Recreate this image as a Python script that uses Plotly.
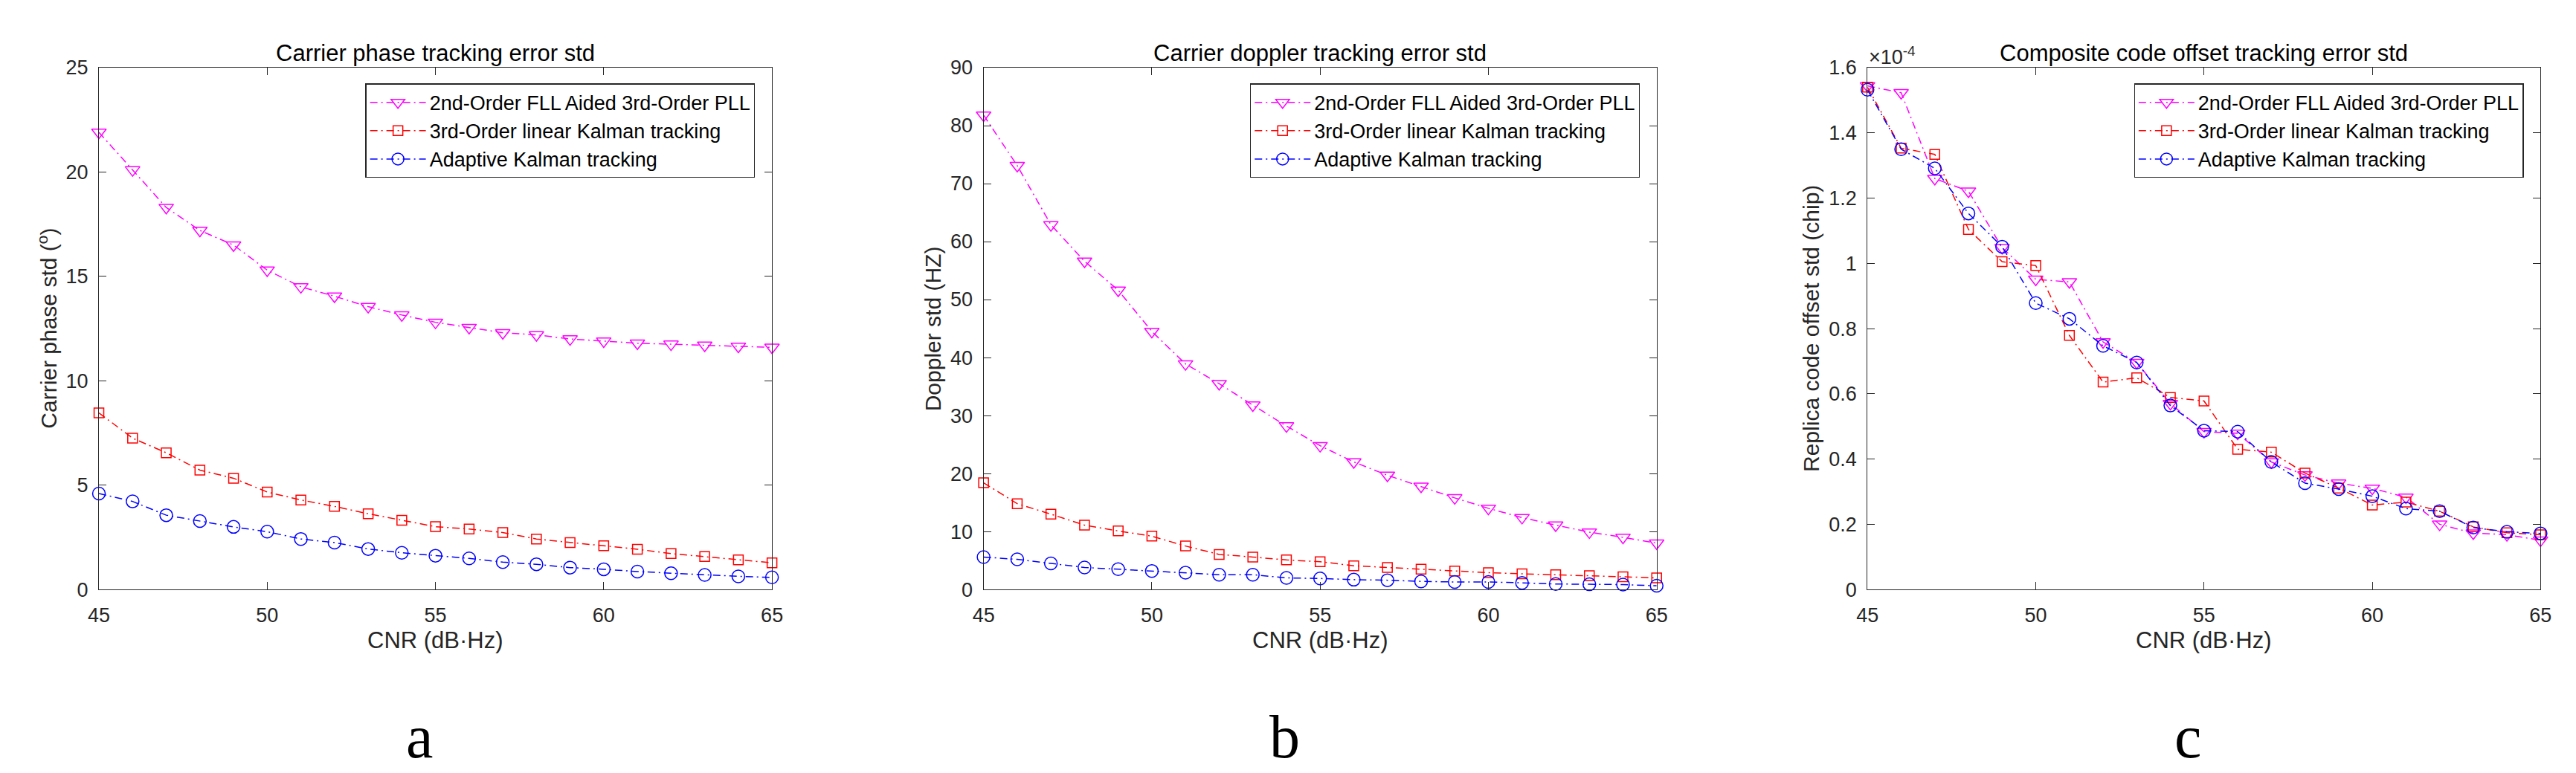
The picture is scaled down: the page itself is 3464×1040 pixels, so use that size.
import plotly.graph_objects as go

cnr = list(range(45, 66))

# Panel a: carrier phase std (deg)
phase_fll = [21.9, 20.1, 18.3, 17.2, 16.5, 15.3, 14.5, 14.05, 13.55, 13.15, 12.8, 12.55,
             12.3, 12.2, 12.0, 11.9, 11.8, 11.75, 11.7, 11.65, 11.6]
phase_lkf = [8.46, 7.25, 6.55, 5.72, 5.33, 4.67, 4.29, 3.98, 3.63, 3.32, 3.01, 2.9,
             2.73, 2.42, 2.25, 2.1, 1.93, 1.72, 1.58, 1.42, 1.28]
phase_akf = [4.6, 4.22, 3.56, 3.28, 3.0, 2.77, 2.42, 2.25, 1.94, 1.76, 1.62, 1.49,
             1.31, 1.21, 1.05, 0.97, 0.86, 0.78, 0.7, 0.63, 0.58]

# Panel b: doppler std (Hz)
dop_fll = [81.8, 73.1, 62.9, 56.6, 51.6, 44.5, 38.9, 35.5, 31.8, 28.2, 24.8, 22.0,
           19.7, 17.8, 15.8, 14.0, 12.4, 11.1, 9.9, 9.0, 8.0]
dop_lkf = [18.4, 14.8, 13.0, 11.1, 10.1, 9.2, 7.5, 6.05, 5.6, 5.1, 4.8, 4.1,
           3.8, 3.5, 3.2, 2.9, 2.7, 2.55, 2.4, 2.2, 2.0]
dop_akf = [5.6, 5.2, 4.5, 3.8, 3.5, 3.2, 2.9, 2.55, 2.55, 2.0, 1.9, 1.7,
           1.6, 1.4, 1.3, 1.3, 1.15, 0.95, 0.9, 0.85, 0.65]

# Panel c: replica code offset std (chip), in units of 1e-4
code_fll = [1.544, 1.523, 1.26, 1.221, 1.048, 0.951, 0.943, 0.759, 0.696, 0.57, 0.484, 0.479,
            0.391, 0.351, 0.326, 0.31, 0.283, 0.2, 0.173, 0.168, 0.151]
code_lkf = [1.54, 1.353, 1.334, 1.104, 1.005, 0.993, 0.779, 0.636, 0.649, 0.589, 0.578, 0.43,
            0.421, 0.357, 0.311, 0.259, 0.268, 0.24, 0.192, 0.174, 0.168]
code_akf = [1.532, 1.35, 1.291, 1.153, 1.051, 0.878, 0.83, 0.747, 0.696, 0.564, 0.487, 0.484,
            0.391, 0.326, 0.308, 0.286, 0.248, 0.24, 0.19, 0.177, 0.172]

names = ["2nd-Order FLL Aided 3rd-Order PLL", "3rd-Order linear Kalman tracking",
         "Adaptive Kalman tracking"]
colors = ["#FF00FF", "#FF0000", "#0000FF"]
symbols = ["triangle-down-open", "square-open", "circle-open"]
msizes = [17, 13, 17]

titles = ["Carrier phase tracking error std", "Carrier doppler tracking error std",
          "Composite code offset tracking error std"]
ylabels = ["Carrier phase std (<sup>o</sup>)", "Doppler std (HZ)", "Replica code offset std (chip)"]
panel_letters = ["a", "b", "c"]
yranges = [[0, 25], [0, 90], [0, 1.6]]
ydticks = [5, 10, 0.2]

W, H = 3464, 1040
left_px = [111, 1311, 2510]
plot_w = 913
top_px, bot_px = 70, 793
ylab_x = [41, 1242, 2433]
letter_x = [546, 1719, 2945]

data = [(phase_fll, phase_lkf, phase_akf), (dop_fll, dop_lkf, dop_akf), (code_fll, code_lkf, code_akf)]

fig = go.Figure()
FONT = "Liberation Sans, Arial, Helvetica, sans-serif"
AX = "#262626"

for p in range(3):
    sfx = "" if p == 0 else str(p + 1)
    for k in range(3):
        fig.add_trace(go.Scatter(
            x=cnr, y=data[p][k], name=names[k], mode="lines+markers",
            xaxis="x" + sfx, yaxis="y" + sfx, legend="legend" + sfx,
            line=dict(color=colors[k], width=1.5, dash="10px,5px,2px,5px"),
            marker=dict(symbol=symbols[k], size=msizes[k], color=colors[k],
                        line=dict(color=colors[k], width=1.5)),
            cliponaxis=False,
        ))
    x0 = left_px[p] / W
    x1 = (left_px[p] + plot_w) / W
    axcommon = dict(showgrid=False, zeroline=False, showline=True, linecolor=AX, linewidth=1.3,
                    mirror="ticks", ticks="inside", ticklen=10, tickcolor=AX, tickwidth=1.3,
                    tickfont=dict(family=FONT, size=27, color=AX))
    fig.update_layout(**{
        "xaxis" + sfx: dict(domain=[x0, x1], range=[45, 65], dtick=5, tick0=45,
                            anchor="y" + sfx, ticklabelstandoff=10, **axcommon),
        "yaxis" + sfx: dict(domain=[1 - bot_px / H, 1 - top_px / H], range=yranges[p],
                            dtick=ydticks[p], tick0=0, anchor="x" + sfx,
                            ticklabelstandoff=8, **axcommon),
        "legend" + sfx: dict(x=(left_px[p] + plot_w - 23) / W, y=1 - 92 / H,
                             xanchor="right", yanchor="top", bgcolor="white",
                             bordercolor=AX, borderwidth=1.3, itemwidth=75,
                             font=dict(family=FONT, size=27, color="black"),
                             tracegroupgap=0),
    })
    fig.add_annotation(x=(left_px[p] + plot_w / 2) / W, y=1 - 50 / H, xref="paper", yref="paper",
                       text=titles[p], showarrow=False, xanchor="center", yanchor="middle",
                       font=dict(family=FONT, size=31, color="black"))
    fig.add_annotation(x=(left_px[p] + plot_w / 2) / W, y=1 - 863 / H, xref="paper", yref="paper",
                       text="CNR (dB·Hz)", showarrow=False, xanchor="center", yanchor="middle",
                       font=dict(family=FONT, size=31, color=AX))
    fig.add_annotation(x=ylab_x[p] / W, y=1 - (top_px + bot_px) / 2 / H, xref="paper", yref="paper",
                       text=ylabels[p], showarrow=False, textangle=-90,
                       xanchor="center", yanchor="middle",
                       font=dict(family=FONT, size=30, color=AX))
    fig.add_annotation(x=letter_x[p] / W, y=1 - 997 / H, xref="paper", yref="paper",
                       text=panel_letters[p], showarrow=False, xanchor="center", yanchor="middle",
                       font=dict(family="Liberation Serif, Times New Roman, serif", size=82,
                                 color="black"))

fig.add_annotation(x=left_px[2] / W, y=1 - 54 / H, xref="paper", yref="paper",
                   text="×10<sup>-4</sup>", showarrow=False, xanchor="left", yanchor="middle",
                   font=dict(family=FONT, size=27, color=AX))

fig.update_layout(width=W, height=H, margin=dict(l=0, r=0, t=0, b=0),
                  paper_bgcolor="white", plot_bgcolor="white", showlegend=True)

fig.write_html("out.html")
